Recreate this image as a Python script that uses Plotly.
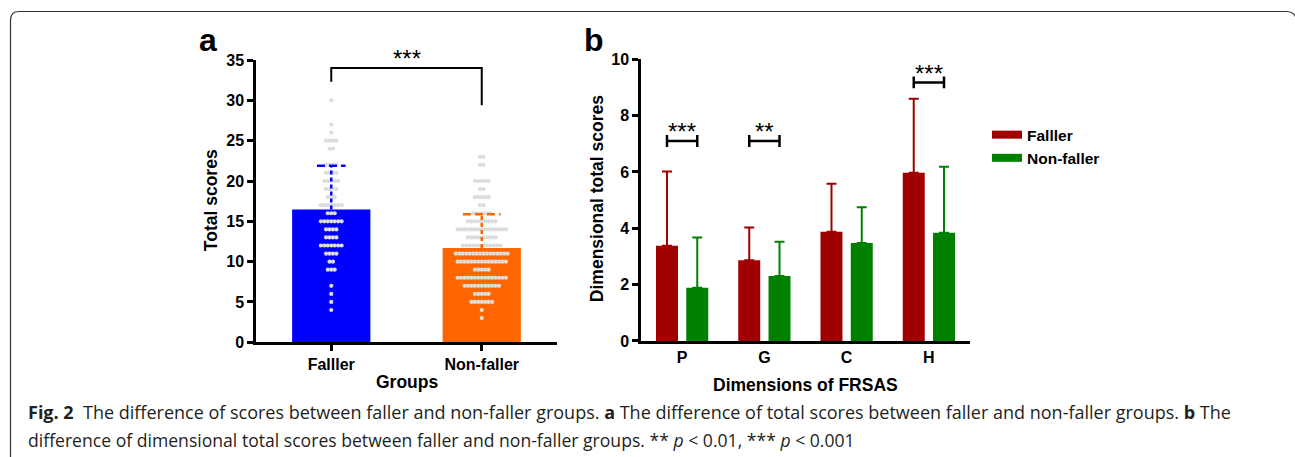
import plotly.graph_objects as go

W, H = 1295, 457
# the photographed page is mapped vertically as  shot_y = 0.962 * page_y + 8 ; compensate
VS, VOFF = 0.962, 8.0

# ---------------- data ----------------
groups = ["Falller", "Non-faller"]
group_means = [16.45, 11.7]
group_sds = [5.43, 4.18]

faller_scores = [30, 27, 26, 25, 24, 22, 21, 20, 19, 18, 17, 16, 15, 14, 13, 12, 11, 10, 9, 7, 6, 5, 4]
faller_counts = [1, 1, 1, 4, 2, 4, 4, 5, 4, 3, 7, 3, 7, 4, 4, 7, 4, 2, 3, 1, 1, 1, 1]
nonfaller_scores = [23, 22, 20, 19, 18, 17, 16, 15, 14, 13, 12, 11, 10, 9, 8, 7, 6, 5, 4, 3]
nonfaller_counts = [2, 2, 5, 2, 5, 2, 6, 9, 15, 9, 12, 16, 15, 5, 15, 11, 5, 7, 1, 1]

dimensions = ["P", "G", "C", "H"]
faller_dim_means = [3.38, 2.87, 3.88, 5.97]
faller_dim_sds = [2.64, 1.16, 1.70, 2.63]
nonfaller_dim_means = [1.89, 2.31, 3.48, 3.84]
nonfaller_dim_sds = [1.78, 1.21, 1.27, 2.35]

sig_a_label = "***"
sig_b_dims = ["P", "G", "H"]
sig_b_labels = ["***", "**", "***"]

caption_line1 = ("<b>Fig. 2</b>  The difference of scores between faller and non-faller groups. "
                 "<b>a</b> The difference of total scores between faller and non-faller groups. <b>b</b> The")
caption_line2 = ("difference of dimensional total scores between faller and non-faller groups. "
                 "** <i>p</i> &lt; 0.01, *** <i>p</i> &lt; 0.001")

# ---------------- helpers (target pixel -> paper fraction) ----------------
def px_x(px):
    return px / W

def px_y(py):
    return 1 - ((py - VOFF) / VS) / H

def vpx(p):
    return p / VS

FONT = "Liberation Sans, Arial, sans-serif"
BLACK = "#000000"
colors_a = ["#0000FF", "#FF6600"]
err_colors_a = ["#0000FF", "#FF6600"]
FALL_COL = "#A00000"
NONF_COL = "#008000"

fig = go.Figure()

# ---------------- panel a ----------------
xa = [0, 1]
fig.add_trace(go.Bar(x=xa, y=group_means, width=0.52, marker=dict(color=colors_a, line=dict(width=0)),
                     showlegend=False, xaxis="x", yaxis="y"))

spacing = 3.45 / 150.5
for i, (scores, counts) in enumerate([(faller_scores, faller_counts), (nonfaller_scores, nonfaller_counts)]):
    xs, ys = [], []
    for s, n in zip(scores, counts):
        for k in range(n):
            xs.append(xa[i] + (k - (n - 1) / 2) * spacing)
            ys.append(s)
    fig.add_trace(go.Scatter(x=xs, y=ys, mode="markers",
                             marker=dict(size=4.2, color="#dcdcdc", line=dict(width=0)),
                             showlegend=False, xaxis="x", yaxis="y", hoverinfo="skip"))

cap_half = [0.095, 0.125]
for i in range(2):
    top = group_means[i] + group_sds[i]
    fig.add_trace(go.Scatter(x=[xa[i], xa[i]], y=[group_means[i], top], mode="lines",
                             line=dict(color=err_colors_a[i], width=2.5, dash="4px,3px"),
                             showlegend=False, xaxis="x", yaxis="y", hoverinfo="skip"))
    fig.add_trace(go.Scatter(x=[xa[i] - cap_half[i], xa[i] + cap_half[i]], y=[top, top], mode="lines",
                             line=dict(color=err_colors_a[i], width=2.5, dash="8px,4px"),
                             showlegend=False, xaxis="x", yaxis="y", hoverinfo="skip"))

# bracket panel a
fig.add_shape(type="path", xref="x", yref="y",
              path=f"M {xa[0]},32.3 L {xa[0]},34.0 L {xa[1]},34.0 L {xa[1]},29.4",
              line=dict(color=BLACK, width=2))
fig.add_annotation(x=0.5, y=34.0, xref="x", yref="y", text=sig_a_label, showarrow=False,
                   yshift=vpx(9), font=dict(family=FONT, size=24, color=BLACK))

# ---------------- panel b ----------------
fig.add_trace(go.Bar(x=dimensions, y=faller_dim_means, name="Falller", marker=dict(color=FALL_COL, line=dict(width=0)),
                     error_y=dict(type="data", symmetric=False, array=faller_dim_sds,
                                  arrayminus=[0] * len(dimensions), color=FALL_COL, thickness=2, width=5),
                     showlegend=False, xaxis="x2", yaxis="y2"))
fig.add_trace(go.Bar(x=dimensions, y=nonfaller_dim_means, name="Non-faller", marker=dict(color=NONF_COL, line=dict(width=0)),
                     error_y=dict(type="data", symmetric=False, array=nonfaller_dim_sds,
                                  arrayminus=[0] * len(dimensions), color=NONF_COL, thickness=2, width=5),
                     showlegend=False, xaxis="x2", yaxis="y2"))
# legend entries
fig.add_trace(go.Scatter(x=[None], y=[None], mode="lines", name="Falller",
                         line=dict(color=FALL_COL, width=8), xaxis="x2", yaxis="y2"))
fig.add_trace(go.Scatter(x=[None], y=[None], mode="lines", name="Non-faller",
                         line=dict(color=NONF_COL, width=8), xaxis="x2", yaxis="y2"))

off = 0.184
sig_b_y = {"P": 7.1, "G": 7.1, "H": 9.18}
for d, lab in zip(sig_b_dims, sig_b_labels):
    i = dimensions.index(d)
    y0 = sig_b_y[d]
    x0, x1 = i - off, i + off
    fig.add_shape(type="line", xref="x2", yref="y2", x0=x0, x1=x1, y0=y0, y1=y0, line=dict(color=BLACK, width=2.5))
    fig.add_shape(type="line", xref="x2", yref="y2", x0=x0, x1=x0, y0=y0 - 0.21, y1=y0 + 0.21, line=dict(color=BLACK, width=2.5))
    fig.add_shape(type="line", xref="x2", yref="y2", x0=x1, x1=x1, y0=y0 - 0.21, y1=y0 + 0.21, line=dict(color=BLACK, width=2.5))
    fig.add_annotation(x=i, y=y0, xref="x2", yref="y2", text=lab, showarrow=False, yshift=vpx(9),
                       font=dict(family=FONT, size=24, color=BLACK))

# ---------------- axes ----------------
tickfont = dict(family=FONT, size=16, color=BLACK, weight="bold")
common_axis = dict(showline=True, linecolor=BLACK, linewidth=2.5, showgrid=False, zeroline=False,
                   tickfont=tickfont, tickcolor=BLACK, tickwidth=2.5, ticklen=6)

fig.update_layout(
    xaxis=dict(domain=[px_x(256), px_x(557)], range=[-0.5, 1.5], tickvals=xa, ticktext=groups,
               ticks="outside", anchor="y", **common_axis),
    yaxis=dict(domain=[px_y(342), px_y(60)], range=[0, 35], dtick=5, ticks="outside",
               anchor="x", **common_axis),
    xaxis2=dict(domain=[px_x(641), px_x(970)], range=[-0.5, 3.5], type="category",
                categoryorder="array", categoryarray=dimensions, ticks="", anchor="y2", **common_axis),
    yaxis2=dict(domain=[px_y(340.7), px_y(59.3)], range=[0, 10], dtick=2, ticks="outside",
                anchor="x2", **common_axis),
    barmode="group", bargap=0.264, bargroupgap=0.274,
    width=W, height=H, margin=dict(l=0, r=0, t=0, b=0),
    paper_bgcolor="white", plot_bgcolor="white",
    legend=dict(x=px_x(987), y=px_y(118), xanchor="left", yanchor="top",
                font=dict(family=FONT, size=15.5, color=BLACK, weight="bold"),
                bgcolor="rgba(0,0,0,0)", itemwidth=30, tracegroupgap=0),
    font=dict(family=FONT, color=BLACK),
)

# axis titles & panel letters
def ann(text, x, y, size, angle=0, weight="bold", family=FONT, xanchor="center"):
    fig.add_annotation(x=px_x(x), y=px_y(y), xref="paper", yref="paper", text=text, showarrow=False,
                       textangle=angle, xanchor=xanchor, yanchor="middle",
                       font=dict(family=family, size=size, color=BLACK, weight=weight))

ann("Total scores", 211, 200, 17.5, angle=-90)
ann("Groups", 407, 382, 17.5)
ann("Dimensional total scores", 597, 199, 17.5, angle=-90)
ann("Dimensions of FRSAS", 805, 385, 17.5)
ann("a", 208, 40, 32)
ann("b", 594, 40, 32)

# caption
cap_font = "Open Sans, sans-serif"
fig.add_annotation(x=px_x(26), y=px_y(412), xref="paper", yref="paper", text=caption_line1, showarrow=False,
                   xanchor="left", yanchor="middle", font=dict(family=cap_font, size=18, color="#231f20"))
fig.add_annotation(x=px_x(26), y=px_y(440), xref="paper", yref="paper", text=caption_line2, showarrow=False,
                   xanchor="left", yanchor="middle", font=dict(family=cap_font, size=17.6, color="#231f20"))

# frame
fr = (f"M {px_x(10.5)},{px_y(470)} L {px_x(10.5)},{px_y(20)} "
      f"Q {px_x(10.5)},{px_y(11.5)} {px_x(19)},{px_y(11.5)} "
      f"L {px_x(1286)},{px_y(11.5)} Q {px_x(1294)},{px_y(11.5)} {px_x(1296)},{px_y(18)}")
fig.add_shape(type="path", xref="paper", yref="paper", path=fr, line=dict(color="#333333", width=1.2))

pin_page = ("var gd=document.getElementById('{plot_id}');"
            "gd.style.position='absolute';gd.style.left='0px';gd.style.top='0px';"
            "document.body.style.margin='0';document.documentElement.style.overflow='hidden';"
            "document.body.style.overflow='hidden';")
fig.write_html("out.html", config={"displayModeBar": False}, post_script=pin_page)
